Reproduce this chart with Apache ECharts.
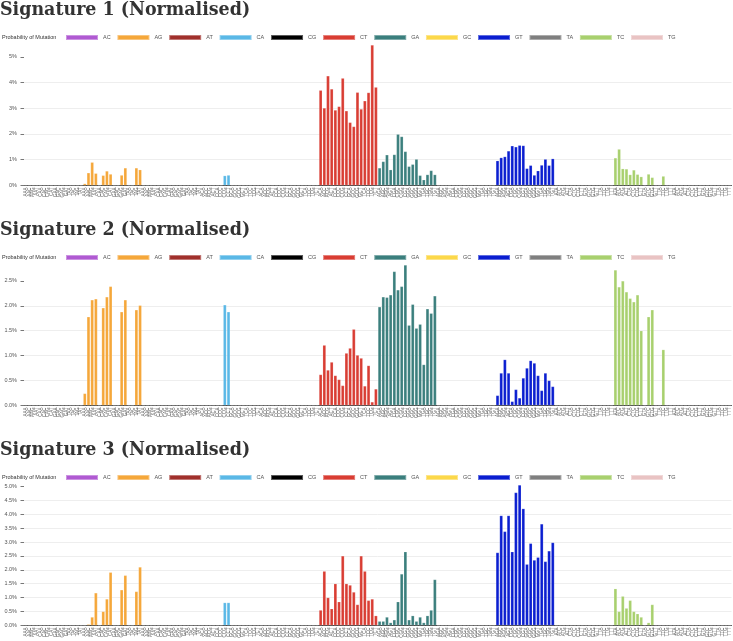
<!DOCTYPE html>
<html><head><meta charset="utf-8">
<script src="https://cdn.jsdelivr.net/npm/echarts@6/dist/echarts.min.js"></script>
<style>html,body{margin:0;padding:0;background:#fff}#c{width:733px;height:641px}</style>
</head><body><div id="c"></div><script>
// Mutation types and flanking bases
const types = ['AC','AG','AT','CA','CG','CT','GA','GC','GT','TA','TC','TG'];
const bases = ['A','C','G','T'];
const typeColors = ['#b05ad2','#f5a73a','#a0302c','#5ab8e6','#000000','#d93d33','#3b7f7d','#fcd84a','#0a1ed0','#7f7f7f','#a8d06e','#e9c3c3'];
const titles = ['Signature 1 (Normalised)','Signature 2 (Normalised)','Signature 3 (Normalised)'];
const yTicks1 = [0,1,2,3,4,5];
const yTicks2 = [0,0.5,1,1.5,2,2.5];
const yTicks3 = [0,0.5,1,1.5,2,2.5,3,3.5,4,4.5,5];
const Z = [0,0,0,0,0,0,0,0,0,0,0,0,0,0,0,0];
// values in percent, 16 contexts per type (rows follow `types`)
const sig1 = [
  Z,
  [0.07,0.49,0.90,0.47,0,0.39,0.56,0.44,0,0,0.40,0.68,0,0,0.68,0.61],
  Z,
  [0,0,0,0,0,0,0.38,0.40,0,0,0,0,0,0,0,0],
  Z,
  [3.70,3.01,4.26,3.75,2.93,3.07,4.17,2.90,2.45,2.29,3.62,2.97,3.29,3.61,5.46,3.82],
  [0.68,0.93,1.19,0.61,1.20,1.99,1.90,1.32,0.74,0.82,1.02,0.39,0.22,0.42,0.58,0.42],
  Z,
  [0.96,1.08,1.12,1.34,1.54,1.50,1.56,1.55,0.66,0.78,0.40,0.57,0.79,1.02,0.78,1.04],
  Z,
  [1.07,1.41,0.65,0.64,0.42,0.60,0.43,0.34,0,0.44,0.31,0,0,0.36,0,0],
  Z
];
const sig2 = [
  Z,
  [0.24,1.78,2.12,2.14,0,1.96,2.18,2.39,0,0,1.88,2.12,0,0,1.92,2.01],
  Z,
  [0,0,0,0,0,0,2.02,1.88,0,0,0,0,0,0,0,0],
  Z,
  [0.62,1.21,0.71,0.87,0.60,0.52,0.40,1.05,1.15,1.53,1.01,0.95,0.39,0.80,0.07,0.33],
  [1.98,2.18,2.17,2.22,2.69,2.32,2.39,2.82,1.61,2.03,1.55,1.63,0.82,1.94,1.85,2.20],
  Z,
  [0.20,0.65,0.92,0.65,0.08,0.32,0.15,0.55,0.75,0.90,0.85,0.60,0.30,0.65,0.50,0.38],
  Z,
  [2.72,2.38,2.50,2.28,2.15,2.08,2.22,1.50,0,1.78,1.92,0,0,1.12,0,0],
  Z
];
const sig3 = [
  Z,
  [0,0.04,0.30,1.17,0,0.50,0.95,1.91,0,0,1.28,1.80,0,0,1.22,2.10],
  Z,
  [0,0,0,0,0,0,0.82,0.82,0,0,0,0,0,0,0,0],
  Z,
  [0.55,1.95,1.00,0.60,1.50,0.85,2.50,1.50,1.45,1.20,0.75,2.50,1.95,0.90,0.95,0.35],
  [0.15,0.15,0.30,0.10,0.20,0.85,1.85,2.65,0.20,0.35,0.15,0.30,0.10,0.35,0.55,1.65],
  Z,
  [2.62,3.95,3.38,3.95,2.65,4.78,5.05,4.20,2.20,2.95,2.35,2.45,3.65,2.30,2.68,2.98],
  Z,
  [1.32,0.50,1.05,0.62,0.90,0.50,0.42,0.30,0,0.10,0.75,0,0,0,0,0],
  Z
];

const sigs = [sig1, sig2, sig3];
const yTicks = [yTicks1, yTicks2, yTicks3];
const categories = [];
types.forEach(t => bases.forEach(l => bases.forEach(r => categories.push(l + t[0] + r))));

const PANEL = 220;
const option = { animation: false, title: [], legend: [], grid: [], xAxis: [], yAxis: [], series: [] };
for (let p = 0; p < 3; p++) {
  const off = p * PANEL;
  option.title.push({ text: titles[p], left: 0, top: off, padding: 0,
    textStyle: { fontFamily: '"DejaVu Serif Condensed","DejaVu Serif",serif', fontWeight: 'bold', fontSize: 19.4, color: '#333' } });
  option.title.push({ text: 'Probability of Mutation', left: 2, top: off + 34, padding: 0,
    textStyle: { fontFamily: 'Liberation Sans, Arial', fontWeight: 'normal', fontSize: 5.5, color: '#333' } });
  option.legend.push({ data: types, left: 65, top: off + 34, padding: 0, icon: 'rect', itemWidth: 32, itemHeight: 5, itemGap: 5.8,
    selectedMode: false,
    textStyle: { fontFamily: 'Liberation Sans, Arial', fontSize: 5.5, color: '#555', width: 8 } });
  option.grid.push({ left: 24, right: 1.5, top: 45 + off, height: 140.4, containLabel: false });
  option.xAxis.push({ type: 'category', gridIndex: p, data: categories,
    axisLine: { lineStyle: { color: '#444', width: 1 } },
    axisTick: { alignWithLabel: true, interval: 0, length: 3, lineStyle: { color: '#555' } },
    axisLabel: { interval: 0, rotate: 90, fontSize: 4.5, color: '#666', margin: 2, fontFamily: 'Liberation Sans, Arial' },
    splitLine: { show: false } });
  const fmt = p === 0 ? (v => v + '%') : (v => v.toFixed(1) + '%');
  option.yAxis.push({ type: 'value', gridIndex: p, min: 0, max: 'dataMax',
    axisLine: { show: false },
    axisTick: { show: true, length: 3.5, customValues: yTicks[p], lineStyle: { color: '#777' } },
    axisLabel: { customValues: yTicks[p], formatter: fmt, fontSize: 5.5, color: '#555', margin: 7, fontFamily: 'Liberation Sans, Arial' },
    splitLine: { show: true, showMinLine: false, showMaxLine: false, lineStyle: { color: '#eee', width: 1 } } });
  types.forEach((t, j) => {
    const data = categories.map(() => '-');
    sigs[p][j].forEach((v, k) => { data[j * 16 + k] = v; });
    option.series.push({ type: 'bar', name: t, xAxisIndex: p, yAxisIndex: p, stack: 's' + p,
      barCategoryGap: '12%', data: data,
      itemStyle: { color: typeColors[j], borderColor: 'rgba(255,255,255,0.35)', borderWidth: 0.5 } });
  });
}
const chart = echarts.init(document.getElementById('c'), null, { renderer: 'canvas' });
chart.setOption(option);
</script></body></html>
